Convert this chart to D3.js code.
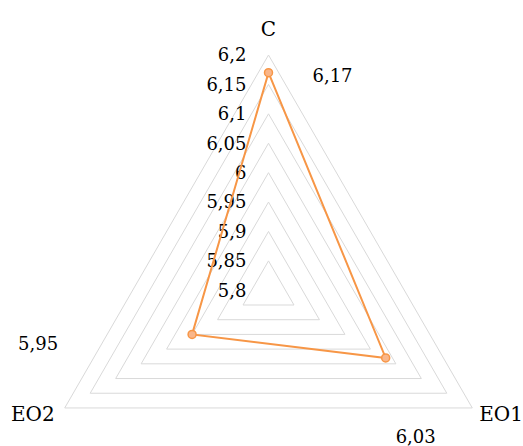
<!DOCTYPE html>
<html lang="en">
<head>
    <meta charset="utf-8">
    <title>Radar Chart</title>
    <style>
        body { margin: 0; background: #fff; }
    </style>
</head>
<body>
    <script src="https://cdnjs.cloudflare.com/ajax/libs/d3/7.9.0/d3.min.js"></script>
    <script>

    const categories = ["C", "EO1", "EO2"];
    const values = [6.17, 6.03, 5.95];
    const valueLabels = ["6,17", "6,03", "5,95"];
    const ticks = [5.8, 5.85, 5.9, 5.95, 6, 6.05, 6.1, 6.15, 6.2];
    const tickLabels = ["5,8", "5,85", "5,9", "5,95", "6", "6,05", "6,1", "6,15", "6,2"];

    const width = 523;
    const height = 446;
    const cx = 268.5, cy = 290.3, R = 235.3;
    const font = "DejaVu Serif";

    const svg = d3.select("body")
        .append("svg")
        .attr("width", width)
        .attr("height", height)
        .style("font-family", font);

    const g = svg.append("g")
        .attr("transform", `translate(${cx},${cy})`);

    const r = d3.scaleLinear().domain([5.8, 6.2]).range([0, R]);
    const angle = d3.scalePoint().domain(categories).range([0, 2 * Math.PI * 2 / 3]);

    function pt(cat, v) {
        const a = angle(cat) - Math.PI / 2;
        return [r(v) * Math.cos(a), r(v) * Math.sin(a)];
    }

    const line = d3.line();

    // grid rings
    g.selectAll(".ring")
        .data(ticks.slice(1))
        .enter()
        .append("path")
        .attr("d", t => line(categories.map(c => pt(c, t))) + "Z")
        .attr("fill", "none")
        .attr("stroke", "#d9d9d9")
        .attr("stroke-width", 1);

    // tick labels
    g.selectAll(".tick")
        .data(ticks)
        .enter()
        .append("text")
        .attr("x", -22)
        .attr("y", t => -r(t))
        .attr("dy", "0.35em")
        .attr("text-anchor", "end")
        .attr("font-size", 18)
        .text((t, i) => tickLabels[i]);

    // series line
    const pts = categories.map((c, i) => pt(c, values[i]));
    g.append("path")
        .attr("d", line(pts) + "Z")
        .attr("fill", "none")
        .attr("stroke", "#f79646")
        .attr("stroke-width", 2);

    g.selectAll(".dot")
        .data(pts)
        .enter()
        .append("circle")
        .attr("cx", d => d[0])
        .attr("cy", d => d[1])
        .attr("r", 4)
        .attr("fill", "#f9b68a")
        .attr("stroke", "#f79646")
        .attr("stroke-width", 1.5);

    // value labels
    const labelOffset = [[64, 9], [30, 85], [-154, 16]];
    g.selectAll(".vlabel")
        .data(pts)
        .enter()
        .append("text")
        .attr("x", (d, i) => d[0] + labelOffset[i][0])
        .attr("y", (d, i) => d[1] + labelOffset[i][1])
        .attr("text-anchor", "middle")
        .attr("font-size", 18)
        .text((d, i) => valueLabels[i]);

    // category labels
    const catPos = {
        "C": {dx: 0, dy: -19, anchor: "middle"},
        "EO1": {dx: 7, dy: 13.5, anchor: "start"},
        "EO2": {dx: -10, dy: 13.5, anchor: "end"}
    };
    g.selectAll(".cat")
        .data(categories)
        .enter()
        .append("text")
        .attr("x", c => pt(c, 6.2)[0] + catPos[c].dx)
        .attr("y", c => pt(c, 6.2)[1] + catPos[c].dy)
        .attr("text-anchor", c => catPos[c].anchor)
        .attr("font-size", 20)
        .text(c => c);

    </script>
</body>
</html>
